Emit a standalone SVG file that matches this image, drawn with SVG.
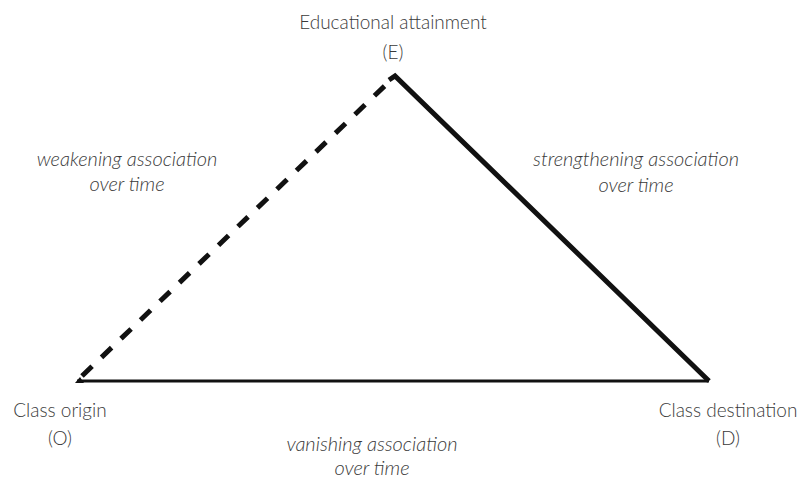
<svg xmlns="http://www.w3.org/2000/svg" width="800" height="480" viewBox="0 0 800 480">
<style>
.lbl{font-family:Lato,"Open Sans","Liberation Sans",sans-serif;font-size:19px;font-weight:300;fill:#3a3a3a;text-anchor:middle}
.it{font-style:italic;font-size:20px}
</style>
<rect width="800" height="480" fill="#fff"/>
<g id="connectors" fill="none" stroke="#111">
<line x1="82" y1="376" x2="393" y2="78" stroke-width="5" stroke-dasharray="14,13"/>
<polyline points="389,80 395,76 709,381" stroke-width="5" stroke-linejoin="miter"/>
<line x1="77" y1="381" x2="709" y2="381" stroke-width="3"/>
<polygon points="75,383 80,377 84,383" fill="#111" stroke="none"/>
</g>
<g id="E"><text class="lbl" x="393" y="29">Educational attainment</text><text class="lbl" x="393" y="59">(E)</text></g>
<g id="O"><text class="lbl" x="60" y="417">Class origin</text><text class="lbl" x="60" y="445">(O)</text></g>
<g id="D"><text class="lbl" x="728" y="417">Class destination</text><text class="lbl" x="728" y="445">(D)</text></g>
<g id="lbl-OE"><text class="lbl it" x="127" y="166">weakening association</text><text class="lbl it" x="127" y="191">over time</text></g>
<g id="lbl-ED"><text class="lbl it" x="636" y="166">strengthening association</text><text class="lbl it" x="636" y="192">over time</text></g>
<g id="lbl-OD"><text class="lbl it" x="372" y="451">vanishing association</text><text class="lbl it" x="372" y="475">over time</text></g>
</svg>
